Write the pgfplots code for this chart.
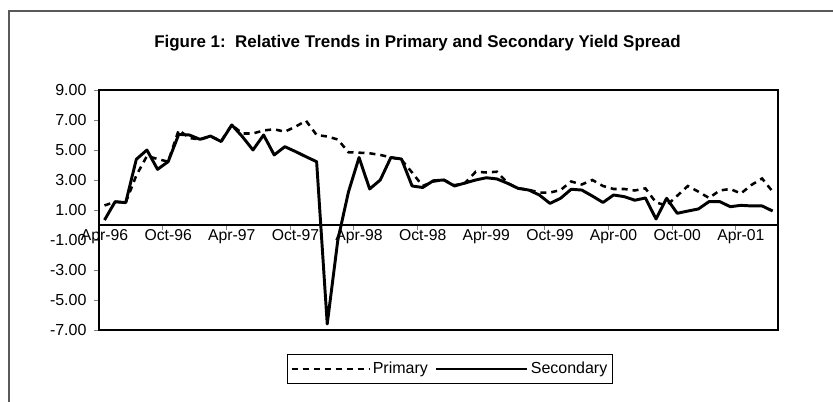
\documentclass[border=0pt]{standalone}
\usepackage{pgfplots}
\usepackage{pgfplotstable}
\pgfplotsset{compat=1.18}
\usepackage{fontspec}
\setmainfont{Liberation Sans}
\pgfplotsset{
  legA/.style={legend image code/.code={\draw[##1] (0pt,0pt) -- (58pt,0pt);}},
  legB/.style={legend image code/.code={\draw[##1] (0pt,0pt) -- (68pt,0pt);}},
}
\pgfplotstableread{
k p s
0 1.30 0.33
1 1.55 1.55
2 1.50 1.49
3 3.30 4.38
4 4.60 5.00
5 4.40 3.71
6 4.22 4.22
7 6.33 6.04
8 5.80 6.00
9 5.70 5.71
10 5.90 5.93
11 5.60 5.56
12 6.67 6.67
13 6.10 5.89
14 6.10 5.00
15 6.30 6.00
16 6.38 4.67
17 6.22 5.22
18 6.55 4.90
19 6.95 4.55
20 6.00 4.22
21 5.90 -6.60
22 5.70 -1.00
23 4.85 2.20
24 4.82 4.50
25 4.78 2.40
26 4.67 3.00
27 4.51 4.50
28 4.35 4.40
29 3.50 2.60
30 2.60 2.50
31 2.90 2.95
32 3.00 3.00
33 2.65 2.60
34 2.80 2.80
35 3.55 3.00
36 3.50 3.15
37 3.55 3.07
38 2.80 2.78
39 2.45 2.44
40 2.35 2.33
41 2.16 2.00
42 2.16 1.44
43 2.33 1.78
44 2.90 2.38
45 2.70 2.33
46 3.00 1.93
47 2.60 1.50
48 2.40 2.00
49 2.40 1.89
50 2.30 1.65
51 2.44 1.80
52 1.50 0.40
53 1.30 1.78
54 1.95 0.78
55 2.60 0.93
56 2.22 1.07
57 1.80 1.56
58 2.30 1.56
59 2.40 1.22
60 2.10 1.31
61 2.67 1.27
62 3.10 1.27
63 2.22 0.93
}\spread
\begin{document}
\begin{tikzpicture}
\useasboundingbox (0,0) rectangle (624.75pt,301.5pt);
\draw[line width=1.4pt, black!65] (6.75pt,0) -- (6.75pt,293.25pt) -- (624.75pt,293.25pt);
\node[font=\bfseries\fontsize{12.7}{14}\selectfont] at (313.1pt,269.25pt) {Figure 1:\ \ Relative Trends in Primary and Secondary Yield Spread};
\begin{axis}[
  at={(74.4pt,54pt)}, anchor=south west, scale only axis,
  width=509.1pt, height=180pt,
  xmin=-0.5, xmax=63.5, ymin=-7, ymax=9,
  xtick=\empty,
  ytick={-7,-5,...,9},
  yticklabels={-7.00,-5.00,-3.00,-1.00,1.00,3.00,5.00,7.00,9.00},
  ytick pos=left, tick align=outside, major tick length=4pt,
  ytick style={line width=0.6pt},
  axis line style={line width=1.6pt},
  yticklabel style={font=\fontsize{12}{14}\selectfont, xshift=-2pt},
  legend style={at={(0.517,-0.1625)}, anchor=center, legend columns=2,
    draw=black, line width=0.6pt, font=\fontsize{12}{14}\selectfont,
    inner xsep=2pt, inner ysep=4pt, /tikz/every even column/.append style={column sep=3pt}},
]
\addplot[black, line width=1.9pt, dash pattern=on 4.5pt off 3.75pt, legA] table[x=k,y=p] {\spread};
\addlegendentry{Primary}
\addplot[black, line width=2.2pt, line join=round, legB] table[x=k,y=s] {\spread};
\addlegendentry{Secondary}
\end{axis}
\begin{axis}[
  at={(74.4pt,54pt)}, anchor=south west, scale only axis,
  width=509.1pt, height=180pt,
  xmin=-0.5, xmax=63.5, ymin=-7, ymax=9,
  axis x line=middle, axis y line=none,
  axis line style={-, line width=0.8pt},
  hide obscured x ticks=false,
  xtick={0,6,...,60},
  xticklabels={Apr-96,Oct-96,Apr-97,Oct-97,Apr-98,Oct-98,Apr-99,Oct-99,Apr-00,Oct-00,Apr-01},
  major tick length=0pt,
  minor xtick={5.5,11.5,...,59.5},
  minor tick length=4pt, tick align=outside,
  minor tick style={line width=0.6pt},
  xticklabel style={font=\fontsize{11.8}{13}\selectfont},
]
\end{axis}
\end{tikzpicture}
\end{document}
